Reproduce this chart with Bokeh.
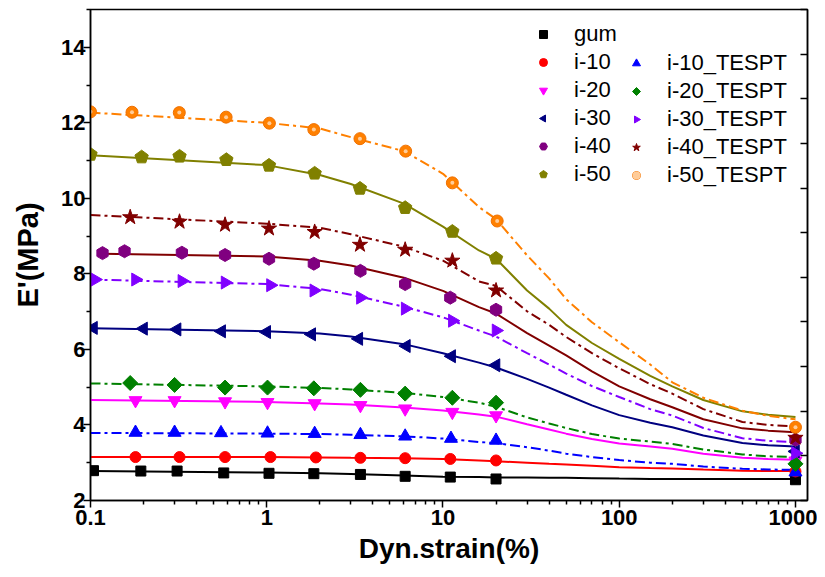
import math
from bokeh.plotting import figure
from bokeh.models import Range1d, LinearAxis, FixedTicker, Legend, LegendItem
from bokeh.embed import file_html
from bokeh.resources import INLINE

# ---------------- data ----------------
CURVE_X = [0.1, 1, 2, 3, 6, 10, 16, 20, 30, 40, 50, 70, 100, 150, 200, 300, 500, 700, 1000]
I40_CURVE_X = [0.117, 1, 2, 3, 6, 10, 16, 20, 30, 40, 50, 70, 100, 150, 200, 300, 500, 700, 1000]

gum_curve = [2.78, 2.74, 2.72, 2.70, 2.66, 2.63, 2.62, 2.61, 2.61, 2.60, 2.60, 2.59, 2.58, 2.57, 2.57, 2.57, 2.57, 2.57, 2.57]
i10_curve = [3.15, 3.15, 3.14, 3.13, 3.12, 3.10, 3.06, 3.04, 3.00, 2.97, 2.95, 2.92, 2.88, 2.86, 2.85, 2.82, 2.79, 2.78, 2.78]
i20_curve = [4.66, 4.61, 4.57, 4.54, 4.46, 4.38, 4.28, 4.22, 4.02, 3.88, 3.77, 3.63, 3.51, 3.43, 3.37, 3.24, 3.13, 3.10, 3.08]
i30_curve = [6.56, 6.48, 6.42, 6.34, 6.14, 5.90, 5.65, 5.52, 5.22, 4.99, 4.80, 4.52, 4.26, 4.06, 3.94, 3.72, 3.52, 3.46, 3.43]
i40_curve = [8.53, 8.46, 8.35, 8.22, 7.90, 7.55, 7.12, 6.95, 6.43, 6.10, 5.84, 5.42, 5.02, 4.68, 4.47, 4.15, 3.91, 3.85, 3.81]
i50_curve = [11.14, 10.88, 10.62, 10.38, 9.86, 9.25, 8.62, 8.40, 7.56, 7.08, 6.65, 6.17, 5.75, 5.30, 5.02, 4.66, 4.36, 4.27, 4.21]
t10_curve = [3.79, 3.77, 3.76, 3.74, 3.70, 3.64, 3.55, 3.52, 3.41, 3.32, 3.24, 3.15, 3.07, 3.00, 2.97, 2.90, 2.84, 2.82, 2.81]
t20_curve = [5.10, 5.02, 4.98, 4.94, 4.85, 4.74, 4.59, 4.48, 4.20, 4.04, 3.92, 3.76, 3.64, 3.56, 3.50, 3.35, 3.22, 3.17, 3.15]
t30_curve = [7.85, 7.73, 7.60, 7.45, 7.13, 6.85, 6.50, 6.34, 5.90, 5.60, 5.36, 5.03, 4.74, 4.42, 4.25, 3.92, 3.65, 3.58, 3.54]
t40_curve = [9.56, 9.33, 9.22, 9.05, 8.72, 8.35, 7.80, 7.68, 7.01, 6.65, 6.33, 5.90, 5.50, 5.08, 4.83, 4.42, 4.08, 4.00, 3.96]
t50_curve = [12.27, 12.00, 11.85, 11.62, 11.25, 10.65, 9.77, 9.45, 8.49, 7.88, 7.33, 6.72, 6.19, 5.60, 5.13, 4.72, 4.38, 4.24, 4.15]

gum_x = [0.104, 0.193, 0.31, 0.57, 1.03, 1.85, 3.4, 6.1, 11, 20, 1000]
gum_y = [2.79, 2.78, 2.78, 2.73, 2.72, 2.71, 2.69, 2.64, 2.62, 2.57, 2.55]
i10_x = [0.18, 0.32, 0.58, 1.05, 1.9, 3.4, 6.1, 11, 20, 1000]
i10_y = [3.15, 3.15, 3.15, 3.15, 3.14, 3.13, 3.12, 3.10, 3.06, 2.77]
i20_x = [0.18, 0.30, 0.58, 1.01, 1.87, 3.4, 6.1, 11.3, 20, 1000]
i20_y = [4.65, 4.65, 4.62, 4.60, 4.57, 4.52, 4.43, 4.34, 4.25, 3.05]
i30_x = [0.104, 0.2, 0.31, 0.555, 1.0, 1.8, 3.33, 6.2, 11.2, 20, 1000]
i30_y = [6.57, 6.55, 6.53, 6.48, 6.46, 6.40, 6.28, 6.09, 5.82, 5.58, 3.30]
i40_x = [0.117, 0.156, 0.33, 0.58, 1.03, 1.85, 3.4, 6.1, 11, 20, 1000]
i40_y = [8.55, 8.60, 8.56, 8.50, 8.40, 8.27, 8.08, 7.73, 7.37, 7.05, 3.61]
i50_x = [0.1, 0.195, 0.32, 0.59, 1.03, 1.87, 3.38, 6.1, 11.3, 20]
i50_y = [11.16, 11.09, 11.11, 11.02, 10.87, 10.66, 10.26, 9.75, 9.12, 8.41]
t10_x = [0.18, 0.30, 0.55, 1.01, 1.87, 3.4, 6.1, 11.1, 20, 1000]
t10_y = [3.80, 3.80, 3.79, 3.78, 3.77, 3.74, 3.70, 3.64, 3.59, 2.75]
t20_x = [0.168, 0.30, 0.58, 1.01, 1.85, 3.4, 6.1, 11.3, 20, 1000]
t20_y = [5.11, 5.06, 4.99, 4.99, 4.97, 4.93, 4.83, 4.72, 4.59, 2.97]
t30_x = [0.106, 0.18, 0.33, 0.58, 1.05, 1.85, 3.4, 6.1, 11.3, 20, 1000]
t30_y = [7.85, 7.85, 7.81, 7.77, 7.70, 7.56, 7.37, 7.08, 6.76, 6.50, 3.25]
t40_x = [0.168, 0.32, 0.58, 1.03, 1.87, 3.38, 6.1, 11.3, 20, 1000]
t40_y = [9.50, 9.38, 9.30, 9.20, 9.11, 8.77, 8.64, 8.35, 7.56, 3.66]
t50_x = [0.1, 0.172, 0.319, 0.588, 1.035, 1.85, 3.38, 6.14, 11.3, 20.3, 1000]
t50_y = [12.29, 12.28, 12.27, 12.15, 11.99, 11.82, 11.58, 11.25, 10.41, 9.40, 3.94]

X_TICKS = [0.1, 1, 10, 100, 1000]
Y_TICKS = [2, 4, 6, 8, 10, 12, 14]

FONT = "Liberation Sans"
DASHDOT = "10 4 3 4"

# ---------------- figure ----------------
p = figure(width=817, height=570, x_axis_type="log",
           x_range=Range1d(0.1, 1170), y_range=Range1d(2, 15),
           output_backend="svg", toolbar_location=None,
           min_border_left=90, min_border_right=10, min_border_top=9, min_border_bottom=70)
p.grid.visible = False
p.outline_line_color = "black"
p.outline_line_width = 1.5
p.background_fill_color = "white"

xa = p.xaxis[0]
xa.ticker = FixedTicker(ticks=X_TICKS,
                        minor_ticks=[m * 10.0 ** e for e in range(-1, 3) for m in range(2, 10)])
xa.major_label_overrides = {0.1: "0.1", 1: "1", 10: "10", 100: "100", 1000: "1000"}
ya = p.yaxis[0]
ya.ticker = FixedTicker(ticks=Y_TICKS, minor_ticks=[3, 5, 7, 9, 11, 13, 15])

for ax in (xa, ya):
    ax.axis_line_width = 1.5
    ax.axis_line_color = "black"
    ax.major_tick_line_width = 1.5
    ax.minor_tick_line_width = 1.5
    ax.major_tick_in = 0
    ax.minor_tick_in = 0
    ax.major_tick_out = 7
    ax.minor_tick_out = 4
    ax.major_label_text_font = FONT
    ax.major_label_text_font_style = "bold"
    ax.major_label_text_font_size = "22px"
    ax.major_label_text_color = "black"
    ax.axis_label_text_font = FONT
    ax.axis_label_text_font_style = "bold"
    ax.axis_label_text_color = "black"

xa.axis_label = "Dyn.strain(%)"
xa.axis_label_text_font_size = "28px"
xa.major_label_standoff = 2
xa.axis_label_standoff = 5
ya.axis_label = "E'(MPa)"
ya.axis_label_text_font_size = "29px"
ya.major_label_standoff = -2
ya.axis_label_standoff = 14

# right axis: inward ticks only (drawn as minor ticks, so no labels)
p.extra_y_ranges = {"right": Range1d(0, 11)}
ra = LinearAxis(y_range_name="right",
                ticker=FixedTicker(ticks=[], minor_ticks=list(range(0, 12))))
ra.major_tick_line_color = None
ra.minor_tick_in = 7
ra.minor_tick_out = 0
ra.minor_tick_line_width = 1.5
ra.axis_line_width = 1.5
p.add_layout(ra, "right")

# ---------------- curves ----------------
curves = [
    (CURVE_X, gum_curve, "#000000", "solid"),
    (CURVE_X, i10_curve, "#FF0000", "solid"),
    (CURVE_X, i20_curve, "#FF00FF", "solid"),
    (CURVE_X, i30_curve, "#000080", "solid"),
    (I40_CURVE_X, i40_curve, "#800000", "solid"),
    (CURVE_X, i50_curve, "#808000", "solid"),
    (CURVE_X, t10_curve, "#0000FF", DASHDOT),
    (CURVE_X, t20_curve, "#008000", DASHDOT),
    (CURVE_X, t30_curve, "#8000FF", DASHDOT),
    (CURVE_X, t40_curve, "#800000", DASHDOT),
    (CURVE_X, t50_curve, "#FF8000", DASHDOT),
]
for cx, cy, col, dash in curves:
    p.line(cx, cy, line_color=col, line_width=2, line_dash=dash)

# ---------------- markers ----------------
def mk(x, y, marker, color, size, angle=0.0):
    return p.scatter(x, y, marker=marker, size=size, fill_color=color,
                     line_color=color, line_width=1, angle=angle)

def ng(x, y, n, r, color, angle=0.0):
    return p.ngon(x, y, radius=r, radius_units="screen", n=n, angle=angle,
                  fill_color=color, line_color=color, line_width=1)

r_gum = mk(gum_x, gum_y, "square", "#000000", 10)
r_i10 = mk(i10_x, i10_y, "circle", "#FF0000", 11)
r_i20 = mk(i20_x, i20_y, "inverted_triangle", "#FF00FF", 13)
r_i30 = ng(i30_x, i30_y, 3, 7.5, "#000080", angle=math.pi / 2)
r_i40 = mk(i40_x, i40_y, "hex", "#800080", 13, angle=math.pi / 2)
r_i50 = ng(i50_x, i50_y, 5, 7, "#808000", angle=0.0)
r_t10 = mk(t10_x, t10_y, "triangle", "#0000FF", 13)
r_t20 = ng(t20_x, t20_y, 4, 7.5, "#008000", angle=0.0)
r_t30 = ng(t30_x, t30_y, 3, 7.5, "#8000FF", angle=-math.pi / 2)
r_t40 = mk(t40_x, t40_y, "star", "#800000", 16)
r_t50 = p.scatter(t50_x, t50_y, marker="circle", size=12, fill_color="#FF8000",
                  line_color="#F07000", line_width=1)
r_t50h = p.scatter(t50_x, t50_y, marker="circle", size=4, fill_color="#FFCC99",
                   line_color=None)

# ---------------- legends ----------------
def make_legend(items, loc):
    return Legend(items=items, location=loc, orientation="vertical",
                  background_fill_alpha=0, border_line_alpha=0,
                  padding=5, margin=0, spacing=2,
                  glyph_width=20, glyph_height=24, label_height=24,
                  label_standoff=21,
                  label_text_font=FONT, label_text_font_size="22px",
                  label_text_color="black")

leg1 = make_legend([
    LegendItem(label="gum", renderers=[r_gum]),
    LegendItem(label="i-10", renderers=[r_i10]),
    LegendItem(label="i-20", renderers=[r_i20]),
    LegendItem(label="i-30", renderers=[r_i30]),
    LegendItem(label="i-40", renderers=[r_i40]),
    LegendItem(label="i-50", renderers=[r_i50]),
], (438, 308))
leg2 = make_legend([
    LegendItem(label="i-10_TESPT", renderers=[r_t10]),
    LegendItem(label="i-20_TESPT", renderers=[r_t20]),
    LegendItem(label="i-30_TESPT", renderers=[r_t30]),
    LegendItem(label="i-40_TESPT", renderers=[r_t40]),
    LegendItem(label="i-50_TESPT", renderers=[r_t50, r_t50h]),
], (531, 307))
p.add_layout(leg1, "center")
p.add_layout(leg2, "center")

open("out.html", "w").write(file_html(p, INLINE))
